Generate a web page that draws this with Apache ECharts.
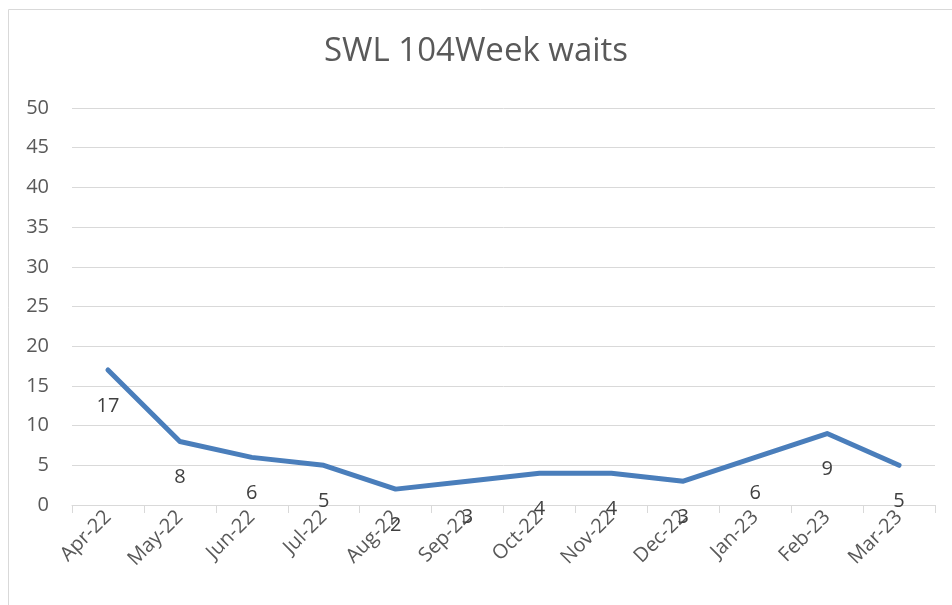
<!DOCTYPE html>
<html>
<head>
<meta charset="utf-8">
<script src="https://cdn.jsdelivr.net/npm/echarts@6/dist/echarts.min.js"></script>
<style>
    html, body { margin: 0; padding: 0; background: #fff; }
    #main { width: 952px; height: 605px; }
</style>
</head>
<body>
<div id="main"></div>
<script>
// chart data
var months = ['Apr-22', 'May-22', 'Jun-22', 'Jul-22', 'Aug-22', 'Sep-22',
    'Oct-22', 'Nov-22', 'Dec-22', 'Jan-23', 'Feb-23', 'Mar-23'];
var waits = [17, 8, 6, 5, 2, 3, 4, 4, 3, 6, 9, 5];
var yTicks = [0, 5, 10, 15, 20, 25, 30, 35, 40, 45, 50];

var textColor = '#595959';
var font = '"Open Sans", sans-serif';

var option = {
    animation: false,
    title: {
        text: 'SWL 104Week waits',
        left: 'center',
        top: 30,
        textStyle: { fontFamily: font, fontSize: 33, fontWeight: 'normal', color: textColor }
    },
    graphic: [{
        type: 'rect',
        shape: { x: 8.5, y: 9.5, width: 1200, height: 1200 },
        style: { fill: 'none', stroke: '#d9d9d9', lineWidth: 1 }
    }],
    grid: { left: 72, right: 17, top: 108, bottom: 100 },
    xAxis: {
        type: 'category',
        data: months,
        boundaryGap: true,
        axisLine: { lineStyle: { color: '#d9d9d9', width: 1 } },
        axisTick: { show: true, length: 8, lineStyle: { color: '#d9d9d9' } },
        axisLabel: {
            rotate: 45, margin: 9, interval: 0,
            fontFamily: font, fontSize: 20, color: textColor
        }
    },
    yAxis: {
        type: 'value',
        min: yTicks[0],
        max: yTicks[yTicks.length - 1],
        interval: yTicks[1] - yTicks[0],
        axisLine: { show: false },
        axisTick: { show: false },
        splitLine: { lineStyle: { color: '#d9d9d9', width: 1 } },
        axisLabel: { margin: 23, fontFamily: font, fontSize: 20, color: textColor }
    },
    series: [{
        type: 'line',
        data: waits,
        symbol: 'circle',
        symbolSize: 2,
        showSymbol: true,
        itemStyle: { color: 'rgba(0,0,0,0)', borderWidth: 0 },
        lineStyle: { color: '#4a7ebb', width: 5, cap: 'round', join: 'round' },
        labelLayout: { hideOverlap: false },
        label: {
            show: true,
            position: 'bottom',
            distance: 25,
            fontFamily: font,
            fontSize: 20,
            color: '#404040'
        }
    }]
};

var myChart = echarts.init(document.getElementById('main'));
myChart.setOption(option);
</script>
</body>
</html>
